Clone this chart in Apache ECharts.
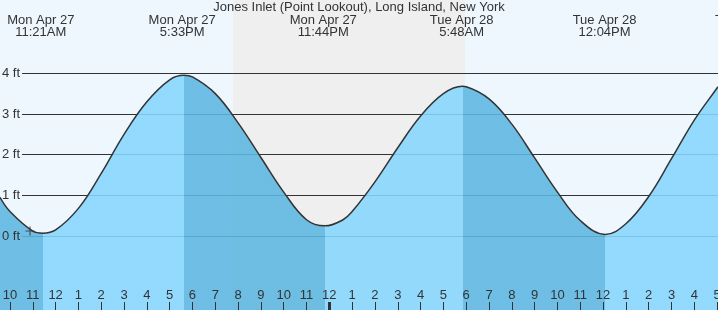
<!DOCTYPE html>
<html>
<head>
<meta charset="utf-8">
<script src="https://cdn.jsdelivr.net/npm/echarts@6/dist/echarts.min.js"></script>
<style>
html,body{margin:0;padding:0;background:#EEF7FE;}
#chart{width:718px;height:310px;}
</style>
</head>
<body>
<div id="chart"></div>
<script>
// ---- data (hours counted from Mon Apr 27 00:00) ----
var titleText = 'Jones Inlet (Point Lookout), Long Island, New York';
// tide curve points: [hour, feet]
var tideHours = [9.562, 10, 11, 11.434, 12, 13, 14, 15, 16, 17, 17.628, 18, 19, 20, 21, 22, 23, 23.810,
                 24.6, 25, 26, 27, 28, 29, 29.846, 30, 31, 32, 33, 34, 35, 36.098, 37, 38, 39, 40, 41, 41.039];
var tideFeet  = [0.95, 0.6, 0.12, 0.07, 0.15, 0.68, 1.54, 2.5, 3.3, 3.84, 3.95, 3.91, 3.5, 2.78, 1.93, 1.08, 0.4, 0.25,
                 0.4, 0.6, 1.33, 2.17, 2.95, 3.5, 3.68, 3.67, 3.37, 2.75, 1.92, 1.08, 0.38, 0.04, 0.3, 0.97, 1.9, 2.85, 3.64, 3.67];
// turning points of the curve (shading changes there)
var turnHours = [11.434, 17.628, 23.810, 29.846, 36.098];
// high/low labels
var extremeHours  = [11.35, 17.55, 23.733, 29.8, 36.067, 42.31];
var extremeLabels = ['Mon Apr 27\n11:21AM', 'Mon Apr 27\n5:33PM', 'Mon Apr 27\n11:44PM',
                     'Tue Apr 28\n5:48AM', 'Tue Apr 28\n12:04PM', 'Tue Apr 28\n6:19PM'];
// night (sunset .. sunrise)
var nightStart = 19.78, nightEnd = 29.95;
// hour ticks
var hourTicks = [10,11,12,13,14,15,16,17,18,19,20,21,22,23,24,25,26,27,28,29,30,31,32,33,34,35,36,37,38,39,40,41];
var midnightTicks = [24];
var nowPoint = [10.877, 0.123];

// ---- chart ----
var xMin = 9.5616, xMax = 41.039, xMaxLabels = 42.793;
var yMin = -1.819, yMax = 5.802;
var light = 'rgb(134,214,253)', dark = 'rgb(92,182,225)';
var pieces = [];
var prev = null;
for (var i = 0; i <= turnHours.length; i++) {
  var p = { color: (i % 2 === 0) ? dark : light };
  if (prev !== null) p.gte = prev;
  if (i < turnHours.length) p.lt = turnHours[i];
  pieces.push(p);
  prev = turnHours[i];
}
var tideData = tideHours.map(function (h, i) { return [h, tideFeet[i]]; });
var font = "'Liberation Sans', Arial, sans-serif";
var txt = '#333';
var noBounds = { outerBoundsMode: 'none', containLabel: false };

var chart = echarts.init(document.getElementById('chart'), null, { renderer: 'canvas' });
chart.setOption({
  backgroundColor: '#EEF7FE',
  animation: false,
  title: {
    text: titleText, left: 'center', top: 1, padding: 0,
    textStyle: { fontFamily: font, fontSize: 13, fontWeight: 'normal', color: txt }
  },
  grid: [
    Object.assign({ left: 0, right: 0, top: 0, bottom: 0 }, noBounds),
    Object.assign({ left: 22, right: 0, top: 73.3, bottom: 74 }, noBounds),
    Object.assign({ left: 0, right: -40, top: 0, height: 50 }, noBounds)
  ],
  xAxis: [
    { type: 'value', gridIndex: 0, position: 'bottom', min: xMin, max: xMax, z: 5,
      axisLine: { show: false, onZero: false }, splitLine: { show: false },
      axisTick: { show: true, inside: true, length: 8, customValues: hourTicks, lineStyle: { color: txt, width: 1 } },
      axisLabel: { show: true, inside: true, margin: 8, customValues: hourTicks, color: txt,
        fontFamily: font, fontSize: 13, showMinLabel: true, showMaxLabel: true, hideOverlap: false,
        formatter: function (v) { return String(((Math.round(v) - 1) % 12) + 1); } } },
    { type: 'value', gridIndex: 0, position: 'bottom', min: xMin, max: xMax, z: 5,
      axisLine: { show: false, onZero: false }, splitLine: { show: false }, axisLabel: { show: false },
      axisTick: { show: true, inside: true, length: 8, customValues: midnightTicks, lineStyle: { color: txt, width: 3 } } },
    { type: 'value', gridIndex: 1, min: xMin, max: xMax, show: false, axisLine: { onZero: false } },
    { type: 'value', gridIndex: 2, position: 'top', min: xMin, max: xMaxLabels, z: 5,
      axisLine: { show: false, onZero: false }, axisTick: { show: false }, splitLine: { show: false },
      axisLabel: { show: true, inside: true, margin: 14.5, customValues: extremeHours, color: txt,
        fontFamily: font, fontSize: 13, lineHeight: 12, showMinLabel: true, showMaxLabel: true, hideOverlap: false,
        formatter: function (v) {
          for (var k = 0; k < extremeHours.length; k++) if (Math.abs(extremeHours[k] - v) < 1e-6) return extremeLabels[k];
          return '';
        } } }
  ],
  yAxis: [
    { type: 'value', gridIndex: 0, min: yMin, max: yMax, show: false },
    // grid lines (below the water)
    { type: 'value', gridIndex: 1, position: 'left', min: 0, max: 4, interval: 1, z: 2,
      axisLine: { show: false }, axisTick: { show: false }, axisLabel: { show: false },
      splitLine: { show: true, lineStyle: { color: '#333', width: 1 } } },
    { type: 'value', gridIndex: 2, show: false },
    // feet labels (above the water)
    { type: 'value', gridIndex: 1, position: 'left', offset: 0, min: 0, max: 4, interval: 1, z: 6,
      axisLine: { show: false }, axisTick: { show: false }, splitLine: { show: false },
      axisLabel: { show: true, margin: 2, color: txt, fontFamily: font, fontSize: 13,
        formatter: function (v) { return v + ' ft'; } } }
  ],
  visualMap: {
    type: 'piecewise', show: false, dimension: 0, seriesIndex: 0, pieces: pieces
  },
  series: [
    { type: 'line', xAxisIndex: 0, yAxisIndex: 0, data: tideData, smooth: 0.4, symbol: 'none', z: 3,
      lineStyle: { width: 0 }, areaStyle: { origin: 'start', opacity: 0.88 },
      markArea: { silent: true, z: 1, itemStyle: { color: '#EFEFEF' },
        data: [[{ xAxis: nightStart }, { xAxis: nightEnd }]] } },
    { type: 'line', xAxisIndex: 0, yAxisIndex: 0, data: tideData, smooth: 0.4, symbol: 'none', z: 4,
      lineStyle: { color: '#333', width: 1.5 } },
    { type: 'scatter', xAxisIndex: 0, yAxisIndex: 0, data: [nowPoint], z: 6,
      symbol: 'path://M3.5,0h1v3.5h3.5v1h-3.5v3.5h-1v-3.5h-3.5v-1h3.5z', symbolSize: 9,
      itemStyle: { color: '#333' } }
  ]
});
</script>
</body>
</html>
